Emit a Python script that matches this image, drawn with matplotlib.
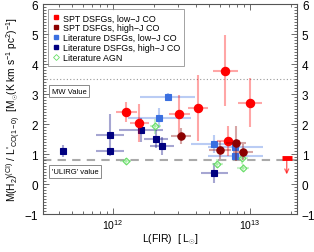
import numpy as np
import matplotlib
matplotlib.use('Agg')
import matplotlib.pyplot as plt
from matplotlib.lines import Line2D
from matplotlib.ticker import MultipleLocator, LogLocator

plt.rcParams['font.family'] = ['Liberation Sans', 'DejaVu Sans']
plt.rcParams['mathtext.fontset'] = 'custom'
plt.rcParams['mathtext.rm'] = 'Liberation Sans'
plt.rcParams['mathtext.it'] = 'Liberation Sans:italic'

# SPT DSFGs, low-J CO (x in 1e12 Lsun, xerr in dex)
spt_lo_x = [1.25, 1.55, 3.05, 4.17, 6.58, 10.0, 6.95]
spt_lo_y = [2.39, 2.04, 2.33, 2.52, 3.78, 2.71, 1.44]
spt_lo_xe = [0.075, 0.07, 0.075, 0.075, 0.09, 0.09, 0.085]
spt_lo_ye = [0.33, 0.63, 0.63, 1.1, 1.18, 0.82, 0.5]

# SPT upper limit
lim_x = [18.5]
lim_y = [0.88]
lim_to = [0.32]

# SPT DSFGs, high-J CO
spt_hi_x = [3.13, 6.04, 7.87, 8.85]
spt_hi_y = [1.6, 1.13, 1.36, 1.06]
spt_hi_xe = [0.075, 0.08, 0.075, 0.075]
spt_hi_ye = [0.27, 0.3, 0.58, 0.27]

# Literature DSFGs, low-J CO
lit_lo_x = [2.5, 2.17, 5.48, 7.77, 7.77]
lit_lo_y = [2.91, 2.19, 1.33, 1.22, 0.93]
lit_lo_xe = [0.2, 0.23, 0.17, 0.2, 0.2]
lit_lo_ye = [0.13, 0.33, 0.3, 0.12, 0.12]

# Literature DSFGs, high-J CO
lit_hi_x = [0.434, 0.95, 0.95, 1.6, 2.06, 2.27, 5.48]
lit_hi_y = [1.11, 1.11, 1.63, 1.8, 1.5, 1.27, 0.38]
lit_hi_xe = [0.027, 0.1, 0.1, 0.16, 0.09, 0.09, 0.1]
lit_hi_ye = [0.2, 0.1, 0.7, 0.4, 0.3, 0.3, 0.33]

# Literature AGN
agn_x = [1.24, 2.03, 5.77, 8.7, 8.85]
agn_y = [0.78, 1.93, 0.67, 0.88, 0.54]
agn_xe = [0.04, 0.04, 0.04, 0.045, 0.045]
agn_ye = [0.1, 0.25, 0.15, 0.2, 0.12]

mw_value = 3.5
ulirg_value = 0.8

RED = '#ff0000'
DRED = '#8b0000'
BLUE = '#3a6fe0'
NAVY = '#000080'
GREEN = '#66dd66'


def xerr_lin(x, dex):
    x = np.asarray(x) * 1e12
    d = np.asarray(dex)
    return x, np.vstack([x - x / 10**d, x * 10**d - x])


fig = plt.figure(figsize=(3.14, 2.53), dpi=100)
ax = fig.add_axes([0.137, 0.150, 0.809, 0.830])

ax.axhline(mw_value, color='#999999', ls=(0, (1, 2)), lw=0.8, zorder=1)
ax.axhline(ulirg_value, color='#aaaaaa', ls=(0, (4, 3)), lw=1.5, zorder=1)


def draw(xs, ys, xe, ye, color, marker, ms, mfc=None, z=3):
    x, xerr = xerr_lin(xs, xe)
    ax.errorbar(x, ys, xerr=xerr, yerr=ye, fmt='none', ecolor=color,
                alpha=0.35, elinewidth=1.5, zorder=z - 1)
    ax.plot(x, ys, ls='none', marker=marker, ms=ms, color=color,
            mfc=mfc if mfc else color, mew=0.8, zorder=z)


draw(lit_lo_x, lit_lo_y, lit_lo_xe, lit_lo_ye, BLUE, 's', 4.6)
draw(lit_hi_x, lit_hi_y, lit_hi_xe, lit_hi_ye, NAVY, 's', 4.6)
draw(agn_x, agn_y, agn_xe, agn_ye, GREEN, 'D', 3.5, mfc='none')
draw(spt_lo_x, spt_lo_y, spt_lo_xe, spt_lo_ye, RED, 'o', 6.0, z=4)
draw(spt_hi_x, spt_hi_y, spt_hi_xe, spt_hi_ye, DRED, 'o', 5.3, z=5)

# upper limit
lx = np.asarray(lim_x) * 1e12
for x, y0, y1 in zip(lx, lim_y, lim_to):
    ax.annotate('', xy=(x, y1), xytext=(x, y0),
                arrowprops=dict(arrowstyle='->', color=RED, alpha=0.6, lw=1.0,
                                mutation_scale=7, shrinkA=0, shrinkB=0))
ax.plot(lx, lim_y, ls='none', marker='_', ms=7, mew=3.5, color=RED, zorder=4)

ax.set_xscale('log')
ax.set_xlim(3.08e11, 2.2e13)
ax.set_ylim(-1, 6)
ax.yaxis.set_major_locator(MultipleLocator(1))
ax.yaxis.set_minor_locator(MultipleLocator(0.1))
ax.xaxis.set_major_locator(LogLocator(base=10))
ax.xaxis.set_minor_locator(LogLocator(base=10, subs=np.arange(2, 10)))
ax.tick_params(which='both', direction='in', top=True, right=True,
               labelright=True, labelsize=8.5, width=0.6, color='#555555')
ax.tick_params(which='major', length=4)
ax.tick_params(which='minor', length=2)
ax.tick_params(axis='x', labelsize=7.5, pad=2)
for s in ax.spines.values():
    s.set_color('#555555')
    s.set_linewidth(0.8)

ax.set_xlabel(r'L(FIR)  [ L$_{\odot}$]', fontsize=7.5, labelpad=1)
ax.set_ylabel(r"M(H$_2$)$^{\rm (CI)}$ / L'$_{\rm CO(1-0)}$  "
              r"[M$_{\odot}$(K km s$^{-1}$ pc$^2$)$^{-1}$]",
              fontsize=7.3, labelpad=1)

box = dict(boxstyle='square,pad=0.35', fc='white', ec='#777777', lw=0.6)
ax.text(0.035, mw_value - 0.4, 'MW Value', transform=ax.get_yaxis_transform(),
        fontsize=5.5, va='center', ha='left', bbox=box)
ax.text(0.035, ulirg_value - 0.38, "'ULIRG' value", transform=ax.get_yaxis_transform(),
        fontsize=5.5, va='center', ha='left', bbox=box)

handles = [
    Line2D([], [], ls='none', marker='s', ms=3.5, color=RED),
    Line2D([], [], ls='none', marker='s', ms=3.5, color=DRED),
    Line2D([], [], ls='none', marker='s', ms=3.5, color=BLUE),
    Line2D([], [], ls='none', marker='s', ms=3.5, color=NAVY),
    Line2D([], [], ls='none', marker='D', ms=3, color=GREEN, mfc='none', mew=0.6),
]
labels = ['SPT DSFGs, low\u2212J CO', 'SPT DSFGs, high\u2212J CO',
          'Literature DSFGs, low\u2212J CO', 'Literature DSFGs, high\u2212J CO',
          'Literature AGN']
leg = ax.legend(handles, labels, loc='upper left', fontsize=6.4, frameon=True,
                fancybox=False, handlelength=0.8, handletextpad=0.4,
                labelspacing=0.1, borderpad=0.45, borderaxespad=0.6)
leg.get_frame().set_edgecolor('#777777')
leg.get_frame().set_linewidth(0.6)

fig.savefig('out.png', dpi=100)
